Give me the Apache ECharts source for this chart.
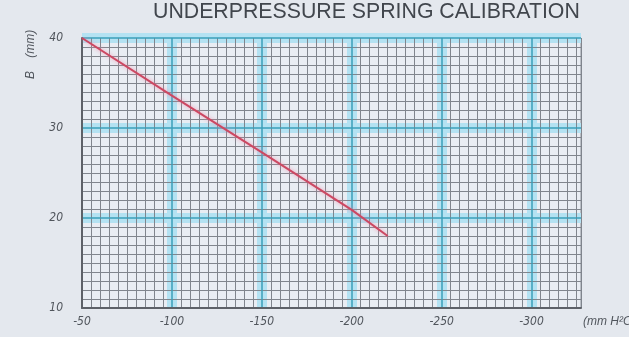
<!DOCTYPE html>
<html>
<head>
<meta charset="utf-8">
<script src="https://cdn.jsdelivr.net/npm/echarts@6/dist/echarts.min.js"></script>
<style>
  html, body { margin: 0; padding: 0; background: #e4e8ee; }
  #chart { width: 629px; height: 337px; }
</style>
</head>
<body>
<div id="chart"></div>
<script>
// Underpressure (mm H2O) against spring setting B (mm)
const pressure = [-50, -100, -150, -200, -220];
const springB = [40, 33.6, 27.3, 20.9, 18.0];

// Axis ranges and tick labels
const X_MIN = -327.5;
const X_MAX = -50;
const xMajorTicks = [-50, -100, -150, -200, -250, -300];
const Y_MIN = 10;
const Y_MAX = 40;
const yMajorTicks = [10, 20, 30, 40];

// Teal rulings sit on the majors inside the frame (the frame edges stay grey)
const xTealTicks = xMajorTicks.filter(v => v !== X_MAX);
const yTealTicks = yMajorTicks.filter(v => v !== Y_MIN);

// Fine graph-paper rulings every 5 mm H2O and every 1 mm
const xMinorTicks = [];
for (let v = -55; v >= X_MIN; v -= 5) {
  if (v % 50 !== 0) xMinorTicks.push(v);
}
xMinorTicks.push(X_MIN);
const yMinorTicks = [];
for (let v = Y_MIN + 1; v < Y_MAX; v += 1) {
  if (v % 10 !== 0) yMinorTicks.push(v);
}

const labelFont = {
  fontFamily: 'Liberation Sans Narrow, DejaVu Sans Condensed, sans-serif',
  fontStyle: 'italic',
  fontSize: 12,
  color: '#50555c'
};

const HALO = '#b4e2f2';
const MINOR = '#80858d';
const TEAL = '#3b9fba';

const chart = echarts.init(document.getElementById('chart'), null, { renderer: 'canvas' });

function xAxisBase(extra) {
  return Object.assign({
    type: 'value', min: X_MIN, max: X_MAX, inverse: true, position: 'bottom',
    axisLine: { show: false }, axisTick: { show: false }, axisLabel: { show: false },
    splitLine: { show: false }
  }, extra);
}
function yAxisBase(extra) {
  return Object.assign({
    type: 'value', min: Y_MIN, max: Y_MAX, position: 'left',
    axisLine: { show: false }, axisTick: { show: false }, axisLabel: { show: false },
    splitLine: { show: false }
  }, extra);
}

chart.setOption({
  backgroundColor: '#e4e8ee',
  animation: false,
  title: {
    text: 'UNDERPRESSURE SPRING CALIBRATION',
    left: 153, top: 2, padding: 0,
    textStyle: { fontFamily: 'Liberation Sans, Arial, sans-serif', fontWeight: 'normal', fontSize: 21.3, color: '#41464d' }
  },
  grid: {
    left: 82, top: 38, right: 48, bottom: 29, z: 0,
    show: true, backgroundColor: '#e9edf3', borderColor: '#8a9098', borderWidth: 1
  },
  xAxis: [
    // soft cyan band behind the major rulings
    xAxisBase({
      z: 1,
      axisTick: { show: false, customValues: xTealTicks },
      splitLine: { show: true, lineStyle: { color: HALO, width: 10 } }
    }),
    // fine grey rulings
    xAxisBase({
      z: 2,
      axisTick: { show: false, customValues: xMinorTicks },
      splitLine: { show: true, lineStyle: { color: MINOR, width: 1 } }
    }),
    // major teal rulings, axis line and labels
    xAxisBase({
      z: 3,
      axisLine: { show: true, onZero: false, lineStyle: { color: '#5d6168', width: 2 } },
      axisTick: { show: false, customValues: xTealTicks },
      axisLabel: Object.assign({ show: true, margin: 8, customValues: xMajorTicks }, labelFont),
      splitLine: { show: true, lineStyle: { color: TEAL, width: 1.5 } }
    })
  ],
  yAxis: [
    yAxisBase({
      z: 1,
      axisTick: { show: false, customValues: yTealTicks },
      splitLine: { show: true, lineStyle: { color: HALO, width: 10 } }
    }),
    yAxisBase({
      z: 2,
      axisTick: { show: false, customValues: yMinorTicks },
      splitLine: { show: true, lineStyle: { color: MINOR, width: 1 } }
    }),
    yAxisBase({
      z: 3,
      axisLine: { show: true, onZero: false, lineStyle: { color: '#5d6168', width: 2 } },
      axisTick: { show: false, customValues: yTealTicks },
      axisLabel: Object.assign({ show: true, margin: 19, customValues: yMajorTicks }, labelFont),
      splitLine: { show: true, lineStyle: { color: TEAL, width: 1.5 } }
    })
  ],
  graphic: [
    {
      type: 'text', x: 31, y: 79, rotation: Math.PI / 2,
      style: { text: 'B    (mm)', textAlign: 'left', textVerticalAlign: 'middle',
        font: 'italic 12px "Liberation Sans Narrow", sans-serif', fill: '#50555c' }
    },
    {
      type: 'text', x: 583, y: 322,
      style: { text: '(mm H²O)', textAlign: 'left', textVerticalAlign: 'middle',
        font: 'italic 12px "Liberation Sans Narrow", sans-serif', fill: '#50555c' }
    }
  ],
  series: [{
    type: 'line',
    xAxisIndex: 2, yAxisIndex: 2,
    data: pressure.map((p, i) => [p, springB[i]]),
    showSymbol: false,
    z: 10,
    lineStyle: { color: '#cc4862', width: 2, shadowColor: 'rgba(240,130,160,0.8)', shadowBlur: 4 }
  }]
});
</script>
</body>
</html>
